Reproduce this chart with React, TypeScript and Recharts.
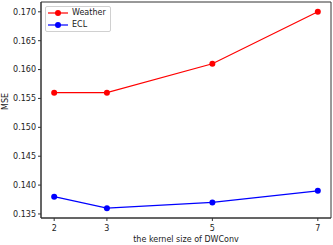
import React from "react";
import { LineChart, Line, XAxis, YAxis, ReferenceArea } from "recharts";

const kernelSizes = [2, 3, 5, 7];
const weatherMSE = [0.156, 0.156, 0.161, 0.17];
const eclMSE = [0.138, 0.136, 0.137, 0.139];
const yTicks = [0.135, 0.14, 0.145, 0.15, 0.155, 0.16, 0.165, 0.17];

const data = kernelSizes.map((k, i) => ({ k, weather: weatherMSE[i], ecl: eclMSE[i] }));

const X_DOMAIN: [number, number] = [1.75, 7.25];
const Y_DOMAIN: [number, number] = [0.1343, 0.1717];

const FONT = "DejaVu Sans, sans-serif";
const AXIS = "#333";

const LegendBox = () => (
  <div
    style={{
      position: "absolute",
      left: 45,
      top: 6,
      border: "1px solid #d0d0d0",
      borderRadius: 2,
      background: "rgba(255,255,255,0.8)",
      padding: "0px 4px 0px 1px",
      fontFamily: FONT,
      fontSize: 8,
      color: "#222",
      lineHeight: "12px",
    }}
  >
    {[
      { name: "Weather", color: "#ff0000" },
      { name: "ECL", color: "#0000ff" },
    ].map((it) => (
      <div key={it.name} style={{ display: "flex", alignItems: "center" }}>
        <svg width={22} height={8} style={{ marginRight: 3 }}>
          <line x1={1} y1={4} x2={21} y2={4} stroke={it.color} strokeWidth={1.2} />
          <circle cx={11} cy={4} r={3} fill={it.color} />
        </svg>
        <span>{it.name}</span>
      </div>
    ))}
  </div>
);

export default function App() {
  return (
    <div style={{ position: "fixed", left: 0, top: 0, width: 333, height: 245, background: "#fff" }}>
      <LineChart width={333} height={245} data={data} margin={{ top: 2, right: 2, left: 0, bottom: 0 }}>
        <XAxis
          dataKey="k"
          type="number"
          domain={X_DOMAIN}
          ticks={kernelSizes}
          tickSize={3}
          tickMargin={4}
          height={27}
          stroke={AXIS}
          allowDataOverflow
          tick={{ fontSize: 8, fontFamily: FONT, fill: "#222" }}
          tickLine={{ stroke: AXIS }}
          axisLine={{ stroke: AXIS }}
          label={{ value: "the kernel size of DWConv", position: "insideBottom", offset: 3, fontSize: 8, fontFamily: FONT, fill: "#222" }}
        />
        <YAxis
          type="number"
          domain={Y_DOMAIN}
          ticks={yTicks}
          tickSize={3}
          width={41}
          stroke={AXIS}
          allowDataOverflow
          tickFormatter={(v: number) => v.toFixed(3)}
          tick={{ fontSize: 8, fontFamily: FONT, fill: "#222" }}
          tickLine={{ stroke: AXIS }}
          axisLine={{ stroke: AXIS }}
          label={{ value: "MSE", angle: -90, position: "insideLeft", offset: 0, dx: 5, fontSize: 8, fontFamily: FONT, fill: "#222" }}
        />
        <ReferenceArea
          x1={X_DOMAIN[0]}
          x2={X_DOMAIN[1]}
          y1={Y_DOMAIN[0]}
          y2={Y_DOMAIN[1]}
          fill="none"
          fillOpacity={0}
          stroke={AXIS}
          strokeWidth={1}
          ifOverflow="visible"
        />
        <Line dataKey="weather" stroke="#ff0000" strokeWidth={1.2} dot={{ r: 3, fill: "#ff0000", stroke: "#ff0000", strokeWidth: 0 }} isAnimationActive={false} />
        <Line dataKey="ecl" stroke="#0000ff" strokeWidth={1.2} dot={{ r: 3, fill: "#0000ff", stroke: "#0000ff", strokeWidth: 0 }} isAnimationActive={false} />
      </LineChart>
      <LegendBox />
    </div>
  );
}
